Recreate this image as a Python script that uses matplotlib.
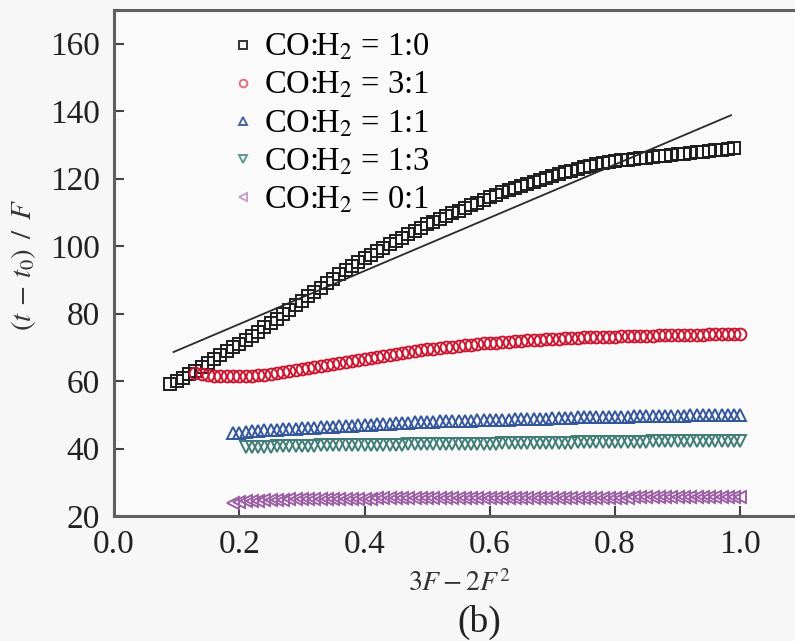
import matplotlib
matplotlib.use("Agg")
import matplotlib.pyplot as plt
from matplotlib.lines import Line2D

plt.rcParams['font.family'] = ['Liberation Serif', 'DejaVu Serif']
plt.rcParams['mathtext.fontset'] = 'stix'

# ---------------- data ----------------
x_10 = [0.09, 0.10, 0.11, 0.12, 0.13, 0.14, 0.15, 0.16, 0.17, 0.18, 0.19, 0.20,
        0.21, 0.22, 0.23, 0.24, 0.25, 0.26, 0.27, 0.28, 0.29, 0.30, 0.31, 0.32,
        0.33, 0.34, 0.35, 0.36, 0.37, 0.38, 0.39, 0.40, 0.41, 0.42, 0.43, 0.44,
        0.45, 0.46, 0.47, 0.48, 0.49, 0.50, 0.51, 0.52, 0.53, 0.54, 0.55, 0.56,
        0.57, 0.58, 0.59, 0.60, 0.61, 0.62, 0.63, 0.64, 0.65, 0.66, 0.67, 0.68,
        0.69, 0.70, 0.71, 0.72, 0.73, 0.74, 0.75, 0.76, 0.77, 0.78, 0.79, 0.80,
        0.81, 0.82, 0.83, 0.84, 0.85, 0.86, 0.87, 0.88, 0.89, 0.90, 0.91, 0.92,
        0.93, 0.94, 0.95, 0.96, 0.97, 0.98, 0.99]
y_10 = [59.0, 60.0, 61.0, 62.0, 63.0, 64.2, 65.3, 66.5, 67.7, 68.9, 70.0, 71.0,
        72.2, 73.4, 74.6, 75.9, 77.2, 78.5, 79.8, 81.1, 82.5, 83.8, 85.1, 86.4,
        87.7, 89.0, 90.3, 91.6, 92.8, 94.0, 95.2, 96.4, 97.5, 98.5, 99.5, 100.5,
        101.5, 102.5, 103.5, 104.5, 105.5, 106.5, 107.3, 108.1, 108.9, 109.7, 110.5, 111.3,
        112.1, 112.9, 113.7, 114.5, 115.2, 115.9, 116.6, 117.2, 117.8, 118.4, 119.0, 119.6,
        120.2, 120.8, 121.4, 121.9, 122.4, 122.9, 123.4, 123.8, 124.2, 124.6, 124.9, 125.2,
        125.4, 125.6, 125.8, 126.0, 126.2, 126.4, 126.6, 126.8, 127.0, 127.2, 127.4, 127.6,
        127.8, 128.0, 128.2, 128.4, 128.6, 128.8, 129.0]

x_31 = [0.13, 0.14, 0.15, 0.16, 0.17, 0.18, 0.19, 0.20, 0.21, 0.22, 0.23, 0.24,
        0.25, 0.26, 0.27, 0.28, 0.29, 0.30, 0.31, 0.32, 0.33, 0.34, 0.35, 0.36,
        0.37, 0.38, 0.39, 0.40, 0.41, 0.42, 0.43, 0.44, 0.45, 0.46, 0.47, 0.48,
        0.49, 0.50, 0.51, 0.52, 0.53, 0.54, 0.55, 0.56, 0.57, 0.58, 0.59, 0.60,
        0.61, 0.62, 0.63, 0.64, 0.65, 0.66, 0.67, 0.68, 0.69, 0.70, 0.71, 0.72,
        0.73, 0.74, 0.75, 0.76, 0.77, 0.78, 0.79, 0.80, 0.81, 0.82, 0.83, 0.84,
        0.85, 0.86, 0.87, 0.88, 0.89, 0.90, 0.91, 0.92, 0.93, 0.94, 0.95, 0.96,
        0.97, 0.98, 0.99, 1.00]
y_31 = [62.5, 62.0, 61.8, 61.6, 61.5, 61.4, 61.4, 61.4, 61.5, 61.6, 61.7, 61.9,
        62.1, 62.3, 62.6, 62.9, 63.2, 63.5, 63.8, 64.1, 64.4, 64.7, 65.0, 65.3,
        65.6, 65.9, 66.2, 66.5, 66.8, 67.1, 67.4, 67.7, 68.0, 68.3, 68.6, 68.9,
        69.2, 69.4, 69.6, 69.8, 70.0, 70.2, 70.4, 70.6, 70.8, 71.0, 71.2, 71.3,
        71.4, 71.6, 71.7, 71.9, 72.0, 72.1, 72.2, 72.3, 72.4, 72.5, 72.6, 72.7,
        72.8, 72.9, 73.0, 73.0, 73.1, 73.1, 73.2, 73.2, 73.3, 73.3, 73.4, 73.4,
        73.5, 73.5, 73.6, 73.6, 73.7, 73.7, 73.7, 73.8, 73.8, 73.8, 73.9, 73.9,
        73.9, 74.0, 74.0, 74.0]

x_11 = [0.19, 0.20, 0.21, 0.22, 0.23, 0.24, 0.25, 0.26, 0.27, 0.28, 0.29, 0.30,
        0.31, 0.32, 0.33, 0.34, 0.35, 0.36, 0.37, 0.38, 0.39, 0.40, 0.41, 0.42,
        0.43, 0.44, 0.45, 0.46, 0.47, 0.48, 0.49, 0.50, 0.51, 0.52, 0.53, 0.54,
        0.55, 0.56, 0.57, 0.58, 0.59, 0.60, 0.61, 0.62, 0.63, 0.64, 0.65, 0.66,
        0.67, 0.68, 0.69, 0.70, 0.71, 0.72, 0.73, 0.74, 0.75, 0.76, 0.77, 0.78,
        0.79, 0.80, 0.81, 0.82, 0.83, 0.84, 0.85, 0.86, 0.87, 0.88, 0.89, 0.90,
        0.91, 0.92, 0.93, 0.94, 0.95, 0.96, 0.97, 0.98, 0.99, 1.00]
y_11 = [44.5, 44.7, 44.9, 45.1, 45.2, 45.4, 45.5, 45.6, 45.7, 45.8, 45.9, 46.0,
        46.1, 46.2, 46.3, 46.4, 46.5, 46.6, 46.7, 46.8, 46.9, 47.0, 47.1, 47.2,
        47.3, 47.4, 47.5, 47.6, 47.7, 47.8, 47.9, 48.0, 48.0, 48.1, 48.1, 48.2,
        48.2, 48.3, 48.3, 48.4, 48.4, 48.5, 48.5, 48.6, 48.6, 48.7, 48.7, 48.8,
        48.8, 48.9, 48.9, 49.0, 49.0, 49.1, 49.1, 49.2, 49.2, 49.2, 49.3, 49.3,
        49.3, 49.4, 49.4, 49.4, 49.5, 49.5, 49.5, 49.6, 49.6, 49.6, 49.7, 49.7,
        49.7, 49.8, 49.8, 49.8, 49.9, 49.9, 49.9, 50.0, 50.0, 50.0]

x_13 = [0.21, 0.22, 0.23, 0.24, 0.25, 0.26, 0.27, 0.28, 0.29, 0.30,
        0.31, 0.32, 0.33, 0.34, 0.35, 0.36, 0.37, 0.38, 0.39, 0.40,
        0.41, 0.42, 0.43, 0.44, 0.45, 0.46, 0.47, 0.48, 0.49, 0.50,
        0.51, 0.52, 0.53, 0.54, 0.55, 0.56, 0.57, 0.58, 0.59, 0.60,
        0.61, 0.62, 0.63, 0.64, 0.65, 0.66, 0.67, 0.68, 0.69, 0.70,
        0.71, 0.72, 0.73, 0.74, 0.75, 0.76, 0.77, 0.78, 0.79, 0.80,
        0.81, 0.82, 0.83, 0.84, 0.85, 0.86, 0.87, 0.88, 0.89, 0.90,
        0.91, 0.92, 0.93, 0.94, 0.95, 0.96, 0.97, 0.98, 0.99, 1.00]
y_13 = [40.5, 40.5, 40.6, 40.6, 40.6, 40.7, 40.7, 40.7, 40.8, 40.8,
        40.8, 40.8, 40.9, 40.9, 40.9, 40.9, 41.0, 41.0, 41.0, 41.0,
        41.0, 41.1, 41.1, 41.1, 41.1, 41.1, 41.2, 41.2, 41.2, 41.2,
        41.2, 41.3, 41.3, 41.3, 41.3, 41.3, 41.4, 41.4, 41.4, 41.4,
        41.4, 41.5, 41.5, 41.5, 41.5, 41.6, 41.6, 41.6, 41.6, 41.7,
        41.7, 41.7, 41.7, 41.8, 41.8, 41.8, 41.8, 41.9, 41.9, 41.9,
        41.9, 42.0, 42.0, 42.0, 42.0, 42.1, 42.1, 42.1, 42.1, 42.2,
        42.2, 42.2, 42.2, 42.2, 42.3, 42.3, 42.3, 42.3, 42.3, 42.3]

x_01 = [0.19, 0.20, 0.21, 0.22, 0.23, 0.24, 0.25, 0.26, 0.27, 0.28, 0.29, 0.30,
        0.31, 0.32, 0.33, 0.34, 0.35, 0.36, 0.37, 0.38, 0.39, 0.40,
        0.41, 0.42, 0.43, 0.44, 0.45, 0.46, 0.47, 0.48, 0.49, 0.50,
        0.51, 0.52, 0.53, 0.54, 0.55, 0.56, 0.57, 0.58, 0.59, 0.60,
        0.61, 0.62, 0.63, 0.64, 0.65, 0.66, 0.67, 0.68, 0.69, 0.70,
        0.71, 0.72, 0.73, 0.74, 0.75, 0.76, 0.77, 0.78, 0.79, 0.80,
        0.81, 0.82, 0.83, 0.84, 0.85, 0.86, 0.87, 0.88, 0.89, 0.90,
        0.91, 0.92, 0.93, 0.94, 0.95, 0.96, 0.97, 0.98, 0.99, 1.00]
y_01 = [24.0, 24.2, 24.3, 24.4, 24.5, 24.6, 24.7, 24.8, 24.8, 24.9, 24.9, 25.0,
        25.0, 25.0, 25.0, 25.0, 25.1, 25.1, 25.1, 25.1, 25.1, 25.1,
        25.1, 25.2, 25.2, 25.2, 25.2, 25.2, 25.2, 25.2, 25.2, 25.2,
        25.2, 25.3, 25.3, 25.3, 25.3, 25.3, 25.3, 25.3, 25.3, 25.3,
        25.3, 25.3, 25.3, 25.3, 25.4, 25.4, 25.4, 25.4, 25.4, 25.4,
        25.4, 25.4, 25.4, 25.4, 25.4, 25.4, 25.4, 25.4, 25.4, 25.4,
        25.4, 25.4, 25.5, 25.5, 25.5, 25.5, 25.5, 25.5, 25.5, 25.5,
        25.5, 25.5, 25.5, 25.5, 25.5, 25.5, 25.5, 25.5, 25.5, 25.5]

fit_x = [0.095, 0.985]
fit_y = [68.6, 138.8]

labels = ['CO:H$_2$ = 1:0', 'CO:H$_2$ = 3:1', 'CO:H$_2$ = 1:1',
          'CO:H$_2$ = 1:3', 'CO:H$_2$ = 0:1']
x_ticks = [0.0, 0.2, 0.4, 0.6, 0.8, 1.0]
y_ticks = [20, 40, 60, 80, 100, 120, 140, 160]

# ---------------- figure ----------------
W, H = 795, 641
fig = plt.figure(figsize=(W / 100, H / 100), dpi=100, facecolor='#f7f7f7')
ax = fig.add_axes([114 / W, 1 - 516 / H, (803 - 114) / W, (516 - 10) / H])
ax.set_facecolor('#fafafa')

series = [
    (x_10, y_10, 's', '#1e1e1e', '#333333'),
    (x_31, y_31, 'o', '#cc1530', '#e07080'),
    (x_11, y_11, '^', '#34569a', '#4a64a0'),
    (x_13, y_13, 'v', '#3f7d76', '#5d9a90'),
    (x_01, y_01, '<', '#9c5ea4', '#c8a0c8'),
]
for (xs, ys, m, c, lc) in series:
    ax.plot(xs, ys, linestyle='none', marker=m, markersize=8.5,
            markerfacecolor='none', markeredgecolor=c, markeredgewidth=1.4)

ax.plot(fit_x, fit_y, color='#2a2a2a', lw=1.3)

handles = [Line2D([], [], linestyle='none', marker=m, markersize=5.5,
                  markerfacecolor='none', markeredgecolor=lc, markeredgewidth=1.4)
           for (_, _, m, _, lc) in series]
ax.legend(handles, labels, loc='upper left', bbox_to_anchor=(0.168, 0.962),
          frameon=False, fontsize=23.5, handlelength=0.6, handletextpad=0.34,
          labelspacing=0.23, borderaxespad=0, borderpad=0.1)

ax.set_xlim(0, 1.1)
ax.set_ylim(20, 170)
ax.set_xticks(x_ticks)
ax.set_xticklabels([f'{v:.1f}' for v in x_ticks])
ax.set_yticks(y_ticks)
ax.tick_params(direction='in', length=7, width=1.5, color='#444444',
               labelsize=24, labelcolor='#222222')
ax.tick_params(axis='x', pad=10)
ax.tick_params(axis='y', pad=10)
for s in ['left', 'bottom', 'top']:
    ax.spines[s].set_linewidth(2.2)
    ax.spines[s].set_color('#606060')
ax.spines['right'].set_visible(False)

fig.text(459 / W, 1 - 584 / H, r'$3F-2F^2$', ha='center', va='center',
         fontsize=20, color='#333333')
fig.text(479 / W, 1 - 622 / H, '(b)', ha='center', va='center',
         fontsize=27, color='#222222')
fig.text(23 / W, 1 - 265 / H, r'$(t\,-\,t_0)\ \,/\ \,F$', ha='center', va='center',
         rotation=90, fontsize=21, color='#333333')

fig.savefig('out.png', dpi=100, facecolor=fig.get_facecolor())
